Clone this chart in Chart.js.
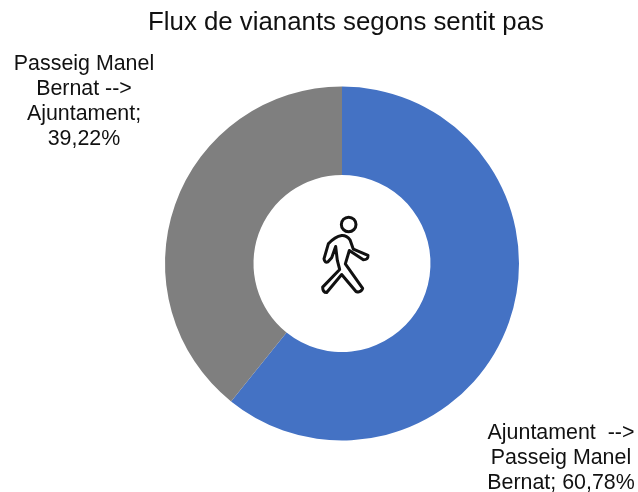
<!DOCTYPE html>
<html><head><meta charset="utf-8">
<style>html,body{margin:0;padding:0;background:#fff}#w{width:638px;height:492px}</style>
<script src="https://cdn.jsdelivr.net/npm/chart.js@4"></script></head>
<body><div id="w"><canvas id="c" width="638" height="492"></canvas></div>
<script>
const titleText = "Flux de vianants segons sentit pas";
const categories = ["Ajuntament  --> Passeig Manel Bernat", "Passeig Manel Bernat --> Ajuntament"];
const values = [60.78, 39.22];
const colors = ["#4472C4", "#7F7F7F"];
const labelLines = [
  ["Ajuntament  -->", "Passeig Manel", "Bernat; 60,78%"],
  ["Passeig Manel", "Bernat -->", "Ajuntament;", "39,22%"]
];
const labelAnchors = [{x:561,y:433},{x:84,y:64}];

const overlay = {
  id:'overlay',
  afterLayout(chart){ chart.titleBlock.left = 56; chart.titleBlock.right = 636; },
  afterDraw(chart){
    const ctx = chart.ctx, arc = chart.getDatasetMeta(0).data[0];
    ctx.save();
    ctx.fillStyle = '#111';
    ctx.font = '21.4px "Liberation Sans"';
    ctx.textAlign = 'center'; ctx.textBaseline = 'middle';
    labelLines.forEach((lines,i)=>lines.forEach((t,j)=>ctx.fillText(t,labelAnchors[i].x,labelAnchors[i].y+j*25)));
    ctx.translate(arc.x-42, arc.y-63);
    ctx.scale(1/3,1/3);
    ctx.strokeStyle = '#111'; ctx.lineWidth = 9; ctx.lineJoin='round'; ctx.lineCap='round';
    ctx.beginPath(); ctx.arc(146,72,22,0,Math.PI*2); ctx.stroke();
    ctx.stroke(new Path2D("M125 105 Q105 108 85 130 L72 175 Q74 188 84 184 L95 172 L107 138 L112 180 L119 207 L68 260 Q68 276 80 276 L125 222 L168 273 Q182 278 188 264 L136 190 L148 150 L190 178 Q205 178 204 165 L160 146 L150 118 Q140 104 125 105 Z"));
    ctx.restore();
  }
};

new Chart(document.getElementById('c'),{
  type:'doughnut',
  data:{labels:categories,datasets:[{data:values,backgroundColor:colors,borderWidth:0}]},
  options:{
    responsive:false,animation:false,cutout:'50%',radius:'100%',
    layout:{padding:{left:165,right:119,top:0,bottom:51}},
    plugins:{
      legend:{display:false},tooltip:{enabled:false},
      title:{display:true,text:titleText,color:'#111',
        font:{family:'"Liberation Sans"',size:25.8,weight:'normal'},
        padding:{top:7,bottom:48}}
    }
  },
  plugins:[overlay]
});
</script></body></html>
